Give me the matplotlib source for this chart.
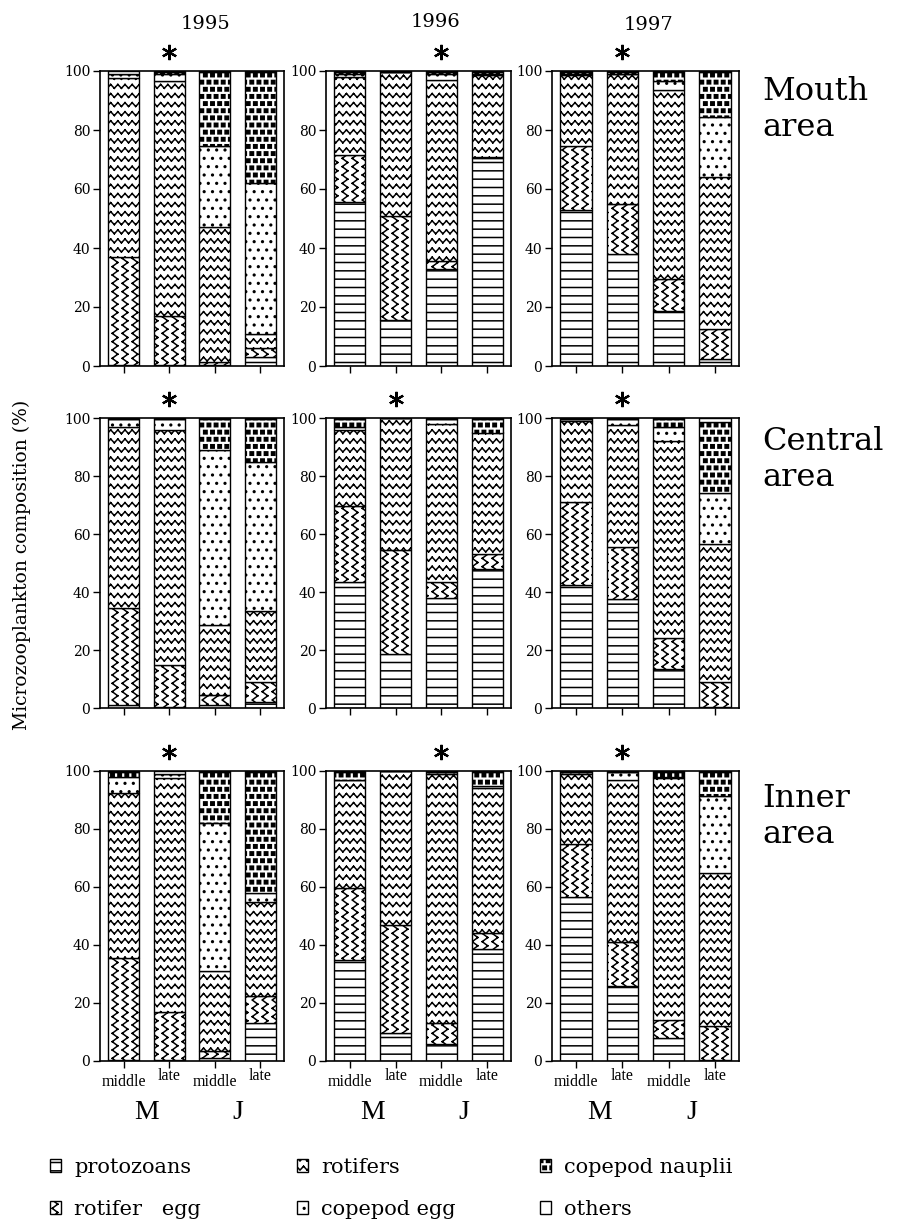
import numpy as np
import matplotlib
matplotlib.use('Agg')
from matplotlib import pyplot as plt
from matplotlib.path import Path
from matplotlib.patches import Patch
import matplotlib.hatch as mhatch

layers = ['protozoans', 'rotifer   egg', 'rotifers', 'copepod egg', 'copepod nauplii', 'others']
hatches = ['--', 'O', 'o', '..', '*', '']
years = ['1995', '1996', '1997']
areas = ['Mouth\narea', 'Central\narea', 'Inner\narea']
periods = ['middle', 'late', 'middle', 'late']
months = ['M', 'J']

# % composition; one row per layer (same order as `layers`),
# columns = mid May, late May, mid June, late June
mouth_95 = [[0.5, 0.5, 0.5, 3], [36.5, 16.5, 1, 3], [60.5, 79.5, 45.5, 5],
            [1.5, 2.5, 27.5, 51], [0, 0.5, 25, 37.5], [1, 0.5, 0.5, 0.5]]
mouth_96 = [[55.5, 15.5, 33, 70.5], [16, 35.5, 2.5, 0.5], [26.5, 48.5, 61.5, 27.5],
            [1, 0, 2, 0.5], [0.5, 0, 0.5, 0.5], [0.5, 0.5, 0.5, 0.5]]
mouth_97 = [[53, 38, 18.5, 2.5], [21.5, 17, 11, 10], [24, 44, 64, 51.5],
            [0.5, 0, 3, 20.5], [0.5, 0.5, 3, 15], [0.5, 0.5, 0.5, 0.5]]
central_95 = [[1, 0.5, 1, 2], [33.5, 14.5, 3.5, 7], [62.5, 81, 24, 24.5],
              [2.5, 3.5, 60.5, 51.5], [0, 0, 10.5, 14.5], [0.5, 0.5, 0.5, 0.5]]
central_96 = [[43.5, 18.5, 38, 48], [26, 36, 5.5, 5], [26.5, 45.5, 54.5, 42],
              [1, 0, 1.5, 0], [2.5, 0, 0, 4.5], [0.5, 0, 0.5, 0.5]]
central_97 = [[42.5, 37.5, 13.5, 0.5], [28.5, 18, 10.5, 8.5], [28, 42, 68, 47.5],
              [0.5, 2, 5, 17.5], [0, 0, 2.5, 24.5], [0.5, 0.5, 0.5, 1.5]]
inner_95 = [[0.5, 0.5, 1, 13], [35, 16.5, 2.5, 9.5], [57, 80.5, 27.5, 32.5],
            [5.5, 1.5, 51, 3], [1.5, 0, 17.5, 41.5], [0.5, 1, 0.5, 0.5]]
inner_96 = [[35, 9.5, 6, 38.5], [24.5, 37.5, 7, 5.5], [37.5, 53, 86, 50],
            [0, 0, 0.5, 1], [2.5, 0, 0, 4.5], [0.5, 0, 0.5, 0.5]]
inner_97 = [[56.5, 26, 8, 0.5], [18.5, 15, 6, 11.5], [24, 56, 83.5, 53],
            [0.5, 2.5, 0.5, 26.5], [0, 0, 1.5, 8], [0.5, 0.5, 0.5, 0.5]]

panels = [[mouth_95, mouth_96, mouth_97],
          [central_95, central_96, central_97],
          [inner_95, inner_96, inner_97]]
# sampling with significant difference (asterisk), per area and year
starred = [[1, 2, 1], [1, 1, 1], [1, 2, 1]]


# --- custom hatches: zigzag rows, zigzag columns and small squares ---
class ZigzagRows(mhatch.HatchPatternBase):
    rows, teeth, amp = 11, 14, 0.019

    def __init__(self, hatch, density):
        self.num_vertices = self.rows * self.teeth * 4 if 'o' in hatch else 0

    def set_vertices_and_codes(self, vertices, codes):
        xs = np.linspace(0, 1, 2 * self.teeth + 1)
        segs = []
        for r in range(self.rows):
            ys = (r + 0.5) / self.rows + self.amp * np.where(np.arange(xs.size) % 2, 1, -1)
            for k in range(xs.size - 1):
                segs += [(xs[k], ys[k]), (xs[k + 1], ys[k + 1])]
        vertices[:] = segs
        codes[0::2] = Path.MOVETO
        codes[1::2] = Path.LINETO


class ZigzagCols(mhatch.HatchPatternBase):
    cols, teeth, amp = 10, 12, 0.028

    def __init__(self, hatch, density):
        self.num_vertices = self.cols * self.teeth * 4 if 'O' in hatch else 0

    def set_vertices_and_codes(self, vertices, codes):
        ys = np.linspace(0, 1, 2 * self.teeth + 1)
        segs = []
        for c in range(self.cols):
            xs = (c + 0.5) / self.cols + self.amp * np.where(np.arange(ys.size) % 2, 1, -1)
            for k in range(ys.size - 1):
                segs += [(xs[k], ys[k]), (xs[k + 1], ys[k + 1])]
        vertices[:] = segs
        codes[0::2] = Path.MOVETO
        codes[1::2] = Path.LINETO


class Squares(mhatch.HatchPatternBase):
    n, side = 14, 0.034

    def __init__(self, hatch, density):
        self.num_vertices = self.n * self.n * 5 if '*' in hatch else 0

    def set_vertices_and_codes(self, vertices, codes):
        h = self.side / 2
        pts = []
        for j in range(self.n):
            off = 0.25 if j % 2 == 0 else 0.75
            cy = (j + 0.5) / self.n
            for i in range(self.n):
                cx = (i + off) / self.n
                pts += [(cx - h, cy - h), (cx + h, cy - h), (cx + h, cy + h),
                        (cx - h, cy + h), (cx - h, cy - h)]
        vertices[:] = pts
        codes[0::5] = Path.MOVETO
        codes[1::5] = Path.LINETO
        codes[2::5] = Path.LINETO
        codes[3::5] = Path.LINETO
        codes[4::5] = Path.CLOSEPOLY


mhatch._hatch_types = [mhatch.HorizontalHatch, mhatch.VerticalHatch,
                       mhatch.NorthEastHatch, mhatch.SouthEastHatch,
                       mhatch.SmallFilledCircles, ZigzagRows, ZigzagCols, Squares]

plt.rcParams['hatch.linewidth'] = 1.1
plt.rcParams['hatch.color'] = 'black'
plt.rcParams['font.family'] = 'DejaVu Serif'

W, H = 897, 1228
fig = plt.figure(figsize=(W / 100, H / 100), dpi=100)

col_px = [(100, 284), (326, 511), (552, 739)]
row_px = [(71, 366), (418, 708), (771, 1061)]
x = np.arange(4)

for r, (top, bot) in enumerate(row_px):
    for c, (left, right) in enumerate(col_px):
        ax = fig.add_axes([left / W, 1 - bot / H, (right - left) / W, (bot - top) / H])
        data = np.array(panels[r][c], dtype=float)
        base = np.zeros(4)
        for k in range(len(layers)):
            ax.bar(x, data[k], bottom=base, width=0.68, color='white',
                   edgecolor='black', linewidth=1.0, hatch=hatches[k])
            base += data[k]
        ax.set_xlim(-0.52, 3.52)
        ax.set_ylim(0, 100)
        ax.set_yticks(range(0, 101, 20))
        ax.set_xticks(x)
        ax.tick_params(direction='out', length=5, width=1, labelsize=10, pad=2,
                       labelbottom=False)
        for s in ax.spines.values():
            s.set_linewidth(1.2)
        ax.plot(starred[r][c], 1.065, marker=(6, 2, 0), ms=11, mew=1.6, color='black',
                transform=ax.get_xaxis_transform(), clip_on=False)
        if r == 2:
            for i, p in enumerate(periods):
                ax.annotate(p, xy=(i, 0), xycoords=('data', 'axes fraction'),
                            xytext=(0, -9 if p == 'middle' else -5), textcoords='offset points',
                            ha='center', va='top', fontsize=11.5, family='Liberation Serif')
            for i, m in enumerate(months):
                ax.annotate(m, xy=(2 * i + 0.5, 0), xycoords=('data', 'axes fraction'),
                            xytext=(0, -37), textcoords='offset points',
                            ha='center', va='center', fontsize=20, family='Liberation Serif')

for yr, xp, yp in zip(years, [205, 435, 648], [24, 22, 25]):
    fig.text(xp / W, 1 - yp / H, yr, ha='center', va='center', fontsize=14)

for name, yp in zip(areas, [76, 426, 783]):
    fig.text(762 / W, 1 - yp / H, name, ha='left', va='top', fontsize=23, linespacing=1.2)

fig.text(22 / W, 1 - 565 / H, 'Microzooplankton composition (%)', rotation=90,
         ha='center', va='center', fontsize=13.5)

handles = [Patch(facecolor='white', edgecolor='black', hatch=h, label=l)
           for h, l in zip(hatches, layers)]
for c, xp in enumerate([50, 297, 540]):
    fig.legend(handles=handles[2 * c:2 * c + 2], loc='upper left',
               bbox_to_anchor=(xp / W, 1 - 1158 / H), frameon=False, fontsize=15,
               handlelength=0.55, handleheight=0.6, handletextpad=0.6,
               labelspacing=1.1, borderpad=0, borderaxespad=0)

fig.savefig('out.png', dpi=100)
